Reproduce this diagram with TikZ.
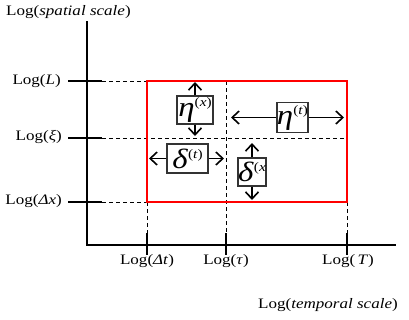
\documentclass[tikz,border=0pt]{standalone}
\usepackage{fontspec}
\setmainfont{Liberation Serif}[FakeStretch=1.18]
\usetikzlibrary{arrows.meta}

% Greek letter with a small superscript index
\newcommand{\scsym}[2]{\textit{#1}\raisebox{10bp}{\fontsize{13}{13}\selectfont #2}}

\begin{document}
\begin{tikzpicture}[x=1bp,y=-1bp,>={Straight Barb[length=7bp,width=13bp]},
  lbl/.style={font=\fontsize{14.5}{17}\selectfont,inner sep=0pt},
  axis/.style={line width=1.3bp},
  guide/.style={line width=0.9bp,dash pattern=on 4bp off 3bp},
  symbox/.style={draw=black!80,line width=1.2bp,fill=white,inner sep=0pt,
    font=\fontsize{28}{28}\selectfont},
  reach/.style={->,line width=1.6bp}]
  \fill[white] (0,0) rectangle (409,320);

  % axes
  \coordinate (O) at (87,245);
  \coordinate (ytop) at (87,21);
  \coordinate (xend) at (396,245);
  \draw[axis] (ytop) -- (O) -- (xend);
  \node[lbl,anchor=west] (ylab) at (6,12) {Log(\textit{spatial scale})};
  \node[lbl,anchor=east] (xlab) at (398,305) {Log(\textit{temporal scale})};

  % spatial ticks
  \node[lbl,anchor=east] (sL) at (61,81) {Log(\textit{L})};
  \node[lbl,anchor=east] (sxi) at (62,137) {Log(\textit{ξ})};
  \node[lbl,anchor=east] (sdx) at (62,201) {Log(\textit{Δx})};
  \coordinate (tL) at (68,81);   \coordinate (gL) at (102,81);
  \coordinate (txi) at (68,138); \coordinate (gxi) at (102,138);
  \coordinate (tdx) at (68,202); \coordinate (gdx) at (102,202);
  \draw[axis] (tL) -- (gL);
  \draw[axis] (txi) -- (gxi);
  \draw[axis] (tdx) -- (gdx);

  % temporal ticks
  \node[lbl] (tdt) at (147,261) {Log(\textit{Δt})};
  \node[lbl] (ttau) at (226,261) {Log(\textit{τ})};
  \node[lbl] (tT) at (348,261) {Log(\,\textit{T})};
  \coordinate (kdt) at (147,233);  \coordinate (kdt2) at (147,255);
  \coordinate (ktau) at (226,233); \coordinate (ktau2) at (226,255);
  \coordinate (kT) at (347,233);   \coordinate (kT2) at (347,255);
  \draw[axis] (kdt) -- (kdt2);
  \draw[axis] (ktau) -- (ktau2);
  \draw[axis] (kT) -- (kT2);

  % range box and guides
  \coordinate (A) at (147,81);
  \coordinate (B) at (347,202);
  \coordinate (tauT) at (226,81);
  \draw[guide] (gL) -- (A);
  \draw[guide] (gxi) -- (gxi -| B);
  \draw[guide] (gdx) -- (A |- B);
  \draw[guide] (A |- B) -- (A |- O);
  \draw[guide] (B) -- (B |- O);
  \draw[guide] (tauT) -- (tauT |- O);
  \draw[red,line width=1.5bp] (A) rectangle (B);

  % scale symbols
  \node[symbox,minimum width=36bp,minimum height=28bp] (etax) at (195,110) {\scsym{η}{(\textit{x})}};
  \node[symbox,minimum width=31bp,minimum height=30bp] (etat) at (292.5,117.5) {\scsym{η}{(\textit{t})}};
  \node[symbox,minimum width=41bp,minimum height=29bp] (delt) at (187.5,158.5) {\scsym{δ}{(\textit{t})}};
  \node[symbox,minimum width=28bp,minimum height=28bp] (delx) at (252,172) {\scsym{δ}{(\textit{x}}};
  \coordinate (etaxU) at (195,82);    \coordinate (etaxD) at (195,136);
  \coordinate (etatL) at (231,117.5); \coordinate (etatR) at (344,117.5);
  \coordinate (deltL) at (149,158.5); \coordinate (deltR) at (224,158.5);
  \coordinate (delxU) at (252,143);   \coordinate (delxD) at (252,200);
  \draw[reach] (etax) -- (etaxU);
  \draw[reach] (etax) -- (etaxD);
  \draw[reach] (etat) -- (etatL);
  \draw[reach] (etat) -- (etatR);
  \draw[reach] (delt) -- (deltL);
  \draw[reach] (delt) -- (deltR);
  \draw[reach] (delx) -- (delxU);
  \draw[reach] (delx) -- (delxD);
\end{tikzpicture}
\end{document}
